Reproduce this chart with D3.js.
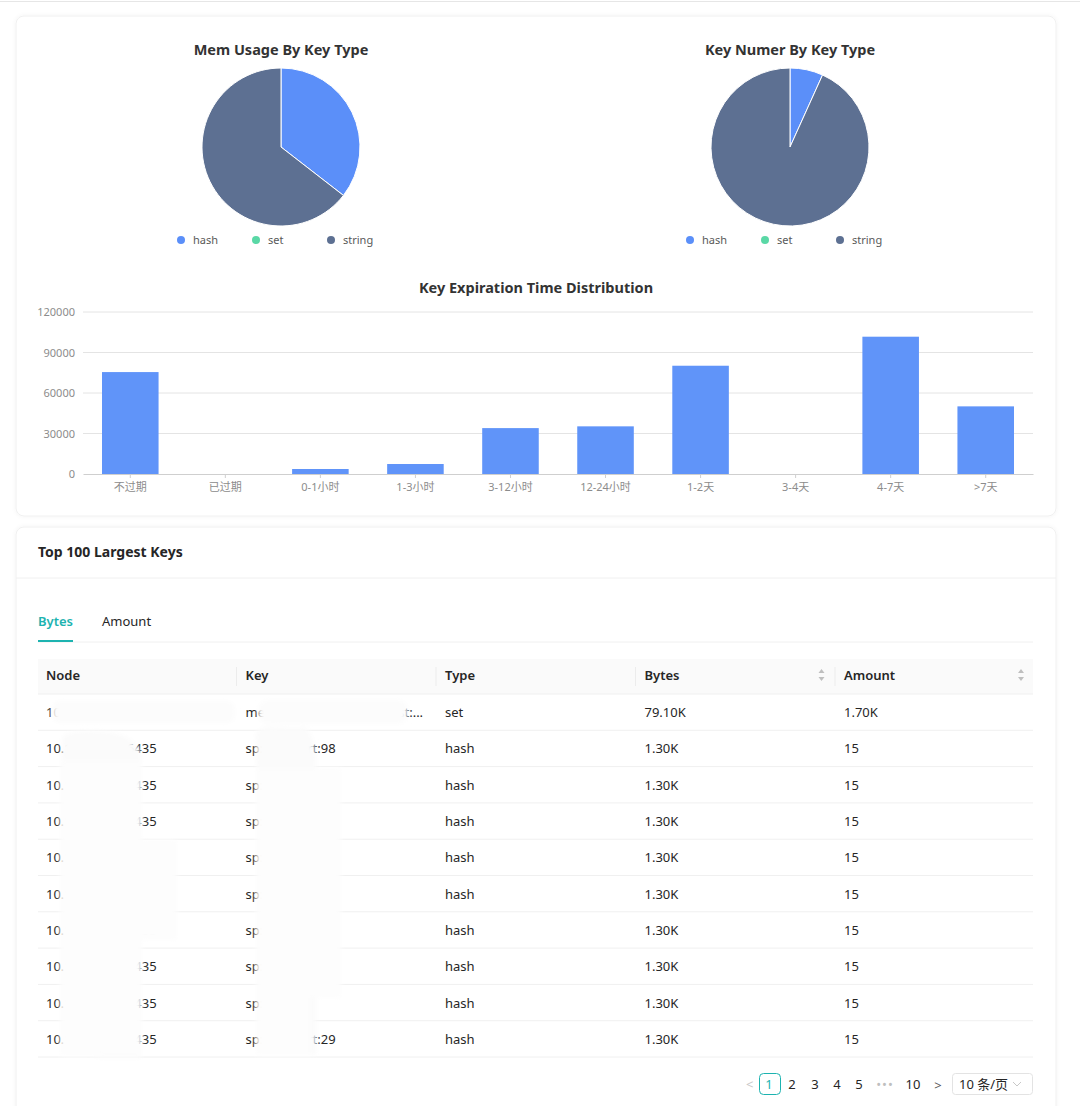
<!DOCTYPE html>
<html><head><meta charset="utf-8">
<script src="https://cdn.jsdelivr.net/npm/d3@7/dist/d3.min.js"></script>
<style>
html,body{margin:0;padding:0;background:#fff;}
svg{display:block;font-family:"Noto Sans","Noto Sans CJK SC",sans-serif;}
</style></head>
<body>
<svg id="c" width="1080" height="1106"></svg>
<script>
// ---------- data ----------
const keyTypes = ["hash", "set", "string"];
const typeColors = ["#5B8FF9", "#5AD8A6", "#5D7092"];
const memUsage = [35.5, 0, 64.5];          // share of memory (%)
const keyNumber = [26200, 0, 361700];      // number of keys
const expCategories = ["不过期","已过期","0-1小时","1-3小时","3-12小时","12-24小时","1-2天","3-4天","4-7天",">7天"];
const expValues = [75500, 0, 3700, 7400, 34000, 35300, 80200, 0, 101700, 50100];
const yTicks = [0, 30000, 60000, 90000, 120000];
const tableColumns = ["Node", "Key", "Type", "Bytes", "Amount"];
const sortable = [false, false, false, true, true];
const rowNodes = ["10.100.20.31:6435","10.100.20.31:6435","10.100.20.35:6435","10.100.20.31:6435","10.100.20.36:6435","10.100.20.34:6435","10.100.20.31:6435","10.100.20.30:6435","10.100.20.30:6435","10.100.20.31:6435"];
const rowKeys = ["member:online:session:list:all:cache:key","sp:user:cart:98","sp:cart:11","sp:cart:12","sp:cart:10","sp:cart:13","sp:cart:14","sp:1:cart","sp:1:4:cart","sp:user:cart:29"];
const rowTypes = ["set","hash","hash","hash","hash","hash","hash","hash","hash","hash"];
const rowBytes = ["79.10K","1.30K","1.30K","1.30K","1.30K","1.30K","1.30K","1.30K","1.30K","1.30K"];
const rowAmount = ["1.70K","15","15","15","15","15","15","15","15","15"];
const tabs = ["Bytes", "Amount"];
const pages = ["1","2","3","4","5","•••","10"];

// ---------- drawing ----------
const svg = d3.select("#c");
const defs = svg.append("defs");
const sh = defs.append("filter").attr("id","sh").attr("x","-5%").attr("y","-5%").attr("width","110%").attr("height","110%");
sh.append("feDropShadow").attr("dx",0).attr("dy",0).attr("stdDeviation",2).attr("flood-color","#000").attr("flood-opacity",0.05);
const blur = defs.append("filter").attr("id","blur").attr("x","-20%").attr("y","-20%").attr("width","140%").attr("height","140%");
blur.append("feGaussianBlur").attr("stdDeviation",2.5);

svg.append("line").attr("x1",0).attr("x2",1080).attr("y1",1.5).attr("y2",1.5).attr("stroke","#e6e6e6");

// cards
svg.append("rect").attr("x",16).attr("y",16).attr("width",1040).attr("height",500).attr("rx",8)
  .attr("fill","#fff").attr("stroke","#f0f0f0").attr("filter","url(#sh)");
svg.append("rect").attr("x",16).attr("y",527).attr("width",1040).attr("height",600).attr("rx",8)
  .attr("fill","#fff").attr("stroke","#f0f0f0").attr("filter","url(#sh)");

// ---- pies ----
function pie(cx, title, values) {
  const g = svg.append("g");
  g.append("text").attr("x",cx).attr("y",55).attr("text-anchor","middle")
    .attr("font-size",14.5).attr("font-weight",700).attr("fill","#333").text(title);
  const data = d3.pie().sort(null).value(d=>d)(values);
  const arc = d3.arc().innerRadius(0).outerRadius(79);
  g.append("g").attr("transform",`translate(${cx},147)`)
    .selectAll("path").data(data).join("path")
    .attr("d",arc).attr("fill",(d,i)=>typeColors[i])
    .attr("stroke","#fff").attr("stroke-width",d=>d.data>0?1:0);
  const lx = d3.scalePoint().domain(keyTypes).range([cx-100, cx+50]);
  const lg = g.append("g").selectAll("g").data(keyTypes).join("g")
    .attr("transform",d=>`translate(${lx(d)},240)`);
  lg.append("circle").attr("r",4).attr("fill",(d,i)=>typeColors[i]);
  lg.append("text").attr("x",12).attr("y",4).attr("font-size",11).attr("fill","#595959").text(d=>d);
}
pie(281, "Mem Usage By Key Type", memUsage);
pie(790, "Key Numer By Key Type", keyNumber);

// ---- bar chart ----
svg.append("text").attr("x",536).attr("y",293).attr("text-anchor","middle")
  .attr("font-size",14.5).attr("font-weight",700).attr("fill","#333").text("Key Expiration Time Distribution");
const x = d3.scaleBand().domain(expCategories).range([83,1033]).paddingInner(0.405).paddingOuter(0.2);
const y = d3.scaleLinear().domain([0,120000]).range([474,312]);
const grid = svg.append("g");
grid.selectAll("line").data(yTicks.filter(t=>t>0)).join("line")
  .attr("x1",83).attr("x2",1033).attr("y1",d=>y(d)).attr("y2",d=>y(d)).attr("stroke","#e4e4e4");
grid.selectAll("text").data(yTicks).join("text")
  .attr("x",75).attr("y",d=>y(d)+4).attr("text-anchor","end").attr("font-size",11).attr("fill","#8c8c8c").text(d=>d);
svg.append("g").selectAll("rect").data(expValues).join("rect")
  .attr("x",(d,i)=>x(expCategories[i])).attr("width",x.bandwidth())
  .attr("y",d=>y(d)).attr("height",d=>474-y(d)).attr("fill","#6094F9");
const xAxis = svg.append("g").attr("transform","translate(0,474)")
  .call(d3.axisBottom(x).tickSize(4).tickSizeOuter(0));
xAxis.select(".domain").attr("stroke","#cfcfcf");
xAxis.selectAll(".tick line").attr("stroke","#cfcfcf");
xAxis.selectAll(".tick text").attr("font-size",11).attr("fill","#8c8c8c").attr("dy","0.9em")
  .attr("font-family",'"Noto Sans","Noto Sans CJK SC",sans-serif');

// ---- table card ----
svg.append("text").attr("x",38).attr("y",557).attr("font-size",14).attr("font-weight",700).attr("fill","#262626").text("Top 100 Largest Keys");
svg.append("line").attr("x1",16).attr("x2",1056).attr("y1",578).attr("y2",578).attr("stroke","#f0f0f0");
// tabs
svg.append("line").attr("x1",38).attr("x2",1033).attr("y1",642).attr("y2",642).attr("stroke","#f0f0f0");
const tx = [38, 102];
svg.append("g").selectAll("text").data(tabs).join("text")
  .attr("x",(d,i)=>tx[i]).attr("y",626).attr("font-size",13).attr("font-weight",(d,i)=>i===0?600:400)
  .attr("fill",(d,i)=>i===0?"#1DB3B0":"#262626").text(d=>d);
svg.append("rect").attr("x",38).attr("y",640).attr("width",35).attr("height",2).attr("fill","#1DB3B0");

// header
const colX = d3.scalePoint().domain(tableColumns).range([38,836]);
svg.append("rect").attr("x",38).attr("y",659).attr("width",995).attr("height",35).attr("fill","#fafafa");
svg.append("line").attr("x1",38).attr("x2",1033).attr("y1",694).attr("y2",694).attr("stroke","#f0f0f0");
const hdr = svg.append("g").selectAll("g").data(tableColumns).join("g").attr("transform",d=>`translate(${colX(d)},0)`);
hdr.append("text").attr("x",8).attr("y",680).attr("font-size",13).attr("font-weight",600).attr("fill","#262626").text(d=>d);
hdr.filter((d,i)=>i>0).append("line").attr("x1",-1).attr("x2",-1).attr("y1",667).attr("y2",686).attr("stroke","#ececec");
hdr.filter((d,i)=>sortable[i]).each(function(){
  const g = d3.select(this);
  g.append("path").attr("d","M182,673 l3,-4 l3,4 z").attr("fill","#bfbfbf");
  g.append("path").attr("d","M182,677 l3,4 l3,-4 z").attr("fill","#bfbfbf");
});

// rows
const rowY = d3.scaleBand().domain(d3.range(rowNodes.length)).range([694,1057]);
const rows = svg.append("g").selectAll("g").data(d3.range(rowNodes.length)).join("g")
  .attr("transform",d=>`translate(0,${rowY(d)})`);
rows.append("line").attr("x1",38).attr("x2",1033).attr("y1",rowY.bandwidth()).attr("y2",rowY.bandwidth()).attr("stroke","#f0f0f0");
const cellVals = [rowNodes,rowKeys,rowTypes,rowBytes,rowAmount];
const maxW = 180;
tableColumns.forEach((c,ci)=>{
  rows.append("text").attr("x",colX(c)+8).attr("y",rowY.bandwidth()/2+5).attr("font-size",13).attr("fill","#262626")
    .text(d=>cellVals[ci][d])
    .each(function(d){
      const t = d3.select(this); const full = cellVals[ci][d];
      if (this.getComputedTextLength() > maxW) {
        let s = full;
        while (s.length > 1) { s = s.slice(0,-1); t.text(s + "..."); if (this.getComputedTextLength() <= maxW) break; }
      }
    });
});

// redaction smudges (as in the reference screenshot)
const red = svg.append("g").attr("filter","url(#blur)");
red.append("rect").attr("x",52).attr("y",701).attr("width",183).attr("height",22).attr("rx",8).attr("fill","#fcfcfc");
red.append("rect").attr("x",258).attr("y",700).attr("width",150).attr("height",24).attr("rx",10).attr("fill","#fcfcfc");
red.append("path").attr("d","M62,738 Q70,728 110,732 Q140,738 142,760 L142,1058 L100,1058 Q62,1050 60,1000 Z").attr("fill","#fbfbfb");
red.append("rect").attr("x",60).attr("y",760).attr("width",82).attr("height",296).attr("fill","#fdfdfd");
red.append("path").attr("d","M256,732 Q265,724 285,728 L306,728 Q314,735 316,760 L316,1055 L258,1055 Z").attr("fill","#fbfbfb");
red.append("rect").attr("x",256).attr("y",768).attr("width",85).attr("height",230).attr("fill","#fdfdfd");
red.append("rect").attr("x",256).attr("y",998).attr("width",55).attr("height",57).attr("fill","#fdfdfd");
red.append("rect").attr("x",142).attr("y",840).attr("width",35).attr("height",100).attr("fill","#fdfdfd");

// pagination
const pg = svg.append("g");
pg.append("text").attr("x",746).attr("y",1089).attr("font-size",13).attr("fill","#c8c8c8").text("<");
const px = [769, 792, 815, 837, 859, 885, 913];
pg.append("rect").attr("x",759.5).attr("y",1073.5).attr("width",21).attr("height",21).attr("rx",4)
  .attr("fill","#fff").attr("stroke","#1DB3B0");
pg.selectAll("text.p").data(pages).join("text").attr("class","p")
  .attr("x",(d,i)=>px[i]).attr("y",1089).attr("text-anchor","middle").attr("font-size",13)
  .attr("fill",(d,i)=>i===0?"#1DB3B0":(d==="•••"?"#bfbfbf":"#262626"))
  .attr("letter-spacing",(d)=>d==="•••"?"1":"0")
  .text(d=>d);
pg.append("text").attr("x",938).attr("y",1090).attr("text-anchor","middle").attr("font-size",13).attr("fill","#595959").text(">");
pg.append("rect").attr("x",952.5).attr("y",1073.5).attr("width",80).attr("height",21).attr("rx",3)
  .attr("fill","#fff").attr("stroke","#e3e3e3");
pg.append("text").attr("x",959).attr("y",1089).attr("font-size",13).attr("fill","#262626").text("10 条/页");
pg.append("path").attr("d","M1013,1082 l4,4 l4,-4").attr("fill","none").attr("stroke","#c8c8c8");
</script>
</body></html>
